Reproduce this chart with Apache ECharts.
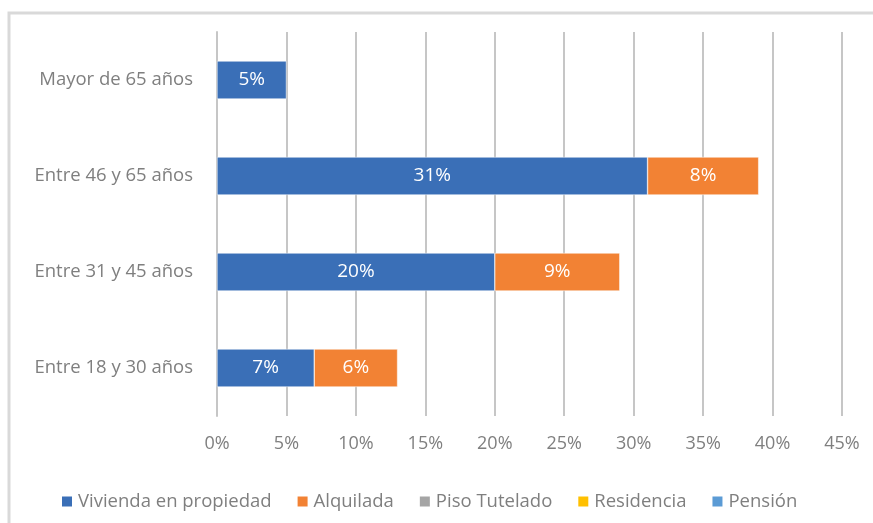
<!DOCTYPE html>
<html>
<head>
<meta charset="utf-8">
<script src="https://cdn.jsdelivr.net/npm/echarts@6/dist/echarts.min.js"></script>
<style>
  html, body { margin: 0; padding: 0; background: #fff; }
  #chart { width: 873px; height: 523px; }
</style>
</head>
<body>
<div id="chart"></div>
<script>
// Age groups, bottom to top
const categories = ['Entre 18 y 30 años', 'Entre 31 y 45 años', 'Entre 46 y 65 años', 'Mayor de 65 años'];

// Share of each housing type per age group (%)
const vivienda = [7, 20, 31, 5];
const alquilada = [6, 9, 8, null];
const pisoTutelado = [null, null, null, null];
const residencia = [null, null, null, null];
const pension = [null, null, null, null];

const seriesNames = ['Vivienda en propiedad', 'Alquilada', 'Piso Tutelado', 'Residencia', 'Pensión'];
const seriesData = [vivienda, alquilada, pisoTutelado, residencia, pension];
const seriesColors = ['#3a6fb7', '#f28234', '#a5a5a5', '#ffc000', '#5b9bd5'];

const FONT = 'Open Sans';
const TEXT = '#7f7f7f';

const chart = echarts.init(document.getElementById('chart'), null, { renderer: 'canvas' });

chart.setOption({
  animation: false,
  textStyle: { fontFamily: FONT },
  graphic: [
    // chart-area frame (top and left edges visible)
    { type: 'polyline', shape: { points: [[9, 530], [9, 13], [880, 13]] },
      style: { stroke: '#d9d9d9', lineWidth: 3, fill: null } }
  ],
  grid: { left: 217, right: 31, top: 32, bottom: 107, containLabel: false },
  xAxis: {
    type: 'value', min: 0, max: 45, interval: 5,
    axisLine: { show: false }, axisTick: { show: false },
    splitLine: { lineStyle: { color: '#c6c6c6', width: 2 } },
    axisLabel: { formatter: v => v + '%', color: TEXT, fontSize: 18, fontFamily: FONT, margin: 19 }
  },
  yAxis: {
    type: 'category', data: categories,
    axisLine: { show: true, lineStyle: { color: '#c6c6c6', width: 2 } },
    axisTick: { show: false },
    axisLabel: { color: TEXT, fontSize: 18.5, fontFamily: FONT, margin: 24 }
  },
  legend: {
    bottom: 7, left: 55, itemWidth: 12, itemHeight: 12, itemGap: 24,
    icon: 'rect',
    textStyle: { color: TEXT, fontSize: 18.5, fontFamily: FONT },
    data: seriesNames
  },
  series: seriesNames.map((name, i) => ({
    name, type: 'bar', stack: 'total', data: seriesData[i],
    barWidth: 38,
    itemStyle: { color: seriesColors[i], borderColor: '#fff', borderWidth: 0.5 },
    label: {
      show: true, position: 'inside', color: '#fff', fontSize: 19, fontFamily: FONT,
      formatter: p => (p.value == null ? '' : p.value + '%')
    }
  }))
});
</script>
</body>
</html>
